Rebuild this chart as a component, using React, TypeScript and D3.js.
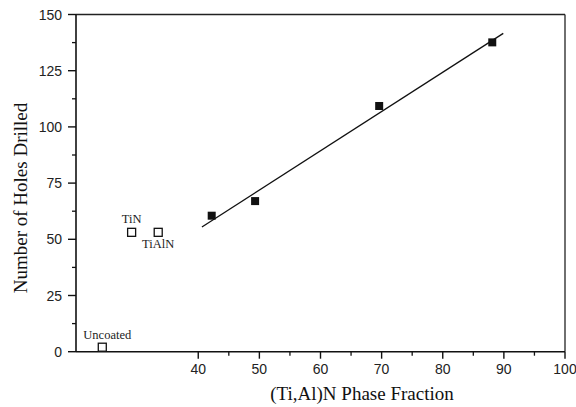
import React from "react";
import * as d3 from "d3";

const W = 576;
const H = 407;

// Data
const coatedX = [42.2, 49.3, 69.6, 88.1];
const coatedY = [60.5, 67, 109.3, 137.6];
const uncoatedNames = ["Uncoated", "TiN", "TiAlN"];
const uncoatedX = [24.3, 29.1, 33.45];
const uncoatedY = [2, 53.1, 53.1];
const fitX = [40.6, 89.9];
const fitY = [55.5, 141.6];
const xMajorTicks = [40, 50, 60, 70, 80, 90, 100];
const xMinorTicks = [45, 55, 65, 75, 85, 95];
const yMajorTicks = [0, 25, 50, 75, 100, 125, 150];
const yMinorTicks = [12.5, 37.5, 62.5, 87.5, 112.5, 137.5];

const margin = { left: 76, right: 565, top: 14.5, bottom: 351.7 };

export default function App() {
  const x = d3.scaleLinear().domain([20, 100]).range([margin.left, margin.right]);
  const y = d3.scaleLinear().domain([0, 150]).range([margin.bottom, margin.top]);
  const line = d3
    .line<number>()
    .x((_, i) => x(fitX[i]))
    .y((_, i) => y(fitY[i]));

  const sans = "'Liberation Sans', Arial, sans-serif";
  const serif = "'Liberation Serif', 'Times New Roman', serif";
  const labelPos: Record<string, { dx: number; dy: number; anchor: string }> = {
    Uncoated: { dx: 5, dy: -8, anchor: "middle" },
    TiN: { dx: 0, dy: -9, anchor: "middle" },
    TiAlN: { dx: 0, dy: 16, anchor: "middle" },
  };

  return (
    <svg
      width={W}
      height={H}
      style={{ position: "absolute", left: 0, top: 0, background: "#fff" }}
    >
      <rect x={0} y={0} width={W} height={H} fill="#fff" />
      {/* frame */}
      <line x1={margin.left} x2={margin.right} y1={margin.top} y2={margin.top} stroke="#222" strokeWidth={1.3} />
      <line x1={margin.right} x2={margin.right} y1={margin.top} y2={margin.bottom} stroke="#222" strokeWidth={1.3} />
      <line x1={margin.left} x2={margin.right} y1={margin.bottom} y2={margin.bottom} stroke="#111" strokeWidth={1.6} />
      <line x1={margin.left} x2={margin.left} y1={margin.top} y2={margin.bottom} stroke="#111" strokeWidth={1.6} />

      {/* x ticks */}
      {xMajorTicks.map((t) => (
        <g key={"xM" + t}>
          <line x1={x(t)} x2={x(t)} y1={margin.bottom} y2={margin.bottom + 7} stroke="#111" strokeWidth={1.4} />
          <text x={x(t)} y={374} fontFamily={sans} fontSize={14} textAnchor="middle" fill="#222">
            {t}
          </text>
        </g>
      ))}
      {xMinorTicks.map((t) => (
        <line key={"xm" + t} x1={x(t)} x2={x(t)} y1={margin.bottom} y2={margin.bottom + 4} stroke="#111" strokeWidth={1.3} />
      ))}

      {/* y ticks */}
      {yMajorTicks.map((t) => (
        <g key={"yM" + t}>
          <line x1={margin.left - 8} x2={margin.left} y1={y(t)} y2={y(t)} stroke="#111" strokeWidth={1.4} />
          <text x={62} y={y(t)} dy="0.36em" fontFamily={sans} fontSize={14} textAnchor="end" fill="#222">
            {t}
          </text>
        </g>
      ))}
      {yMinorTicks.map((t) => (
        <line key={"ym" + t} x1={margin.left - 4} x2={margin.left} y1={y(t)} y2={y(t)} stroke="#111" strokeWidth={1.3} />
      ))}

      {/* axis titles */}
      <text x={362} y={400} fontFamily={serif} fontSize={19} textAnchor="middle" fill="#111">
        (Ti,Al)N Phase Fraction
      </text>
      <text
        transform={`translate(27,198) rotate(-90)`}
        fontFamily={serif}
        fontSize={19}
        textAnchor="middle"
        fill="#111"
      >
        Number of Holes Drilled
      </text>

      {/* fit line */}
      <path d={line(fitX) || ""} fill="none" stroke="#111" strokeWidth={1.3} />

      {/* coated points */}
      {coatedX.map((v, i) => (
        <rect key={"c" + i} x={x(v) - 4} y={y(coatedY[i]) - 4} width={8} height={8} fill="#111" />
      ))}

      {/* uncoated / reference points */}
      {uncoatedX.map((v, i) => {
        const name = uncoatedNames[i];
        const p = labelPos[name];
        return (
          <g key={"u" + i}>
            <rect x={x(v) - 4} y={y(uncoatedY[i]) - 4} width={8} height={8} fill="#fff" stroke="#111" strokeWidth={1.3} />
            <text
              x={x(v) + p.dx}
              y={y(uncoatedY[i]) + p.dy}
              fontFamily={serif}
              fontSize={12.5}
              textAnchor={p.anchor as any}
              fill="#222"
            >
              {name}
            </text>
          </g>
        );
      })}
    </svg>
  );
}
